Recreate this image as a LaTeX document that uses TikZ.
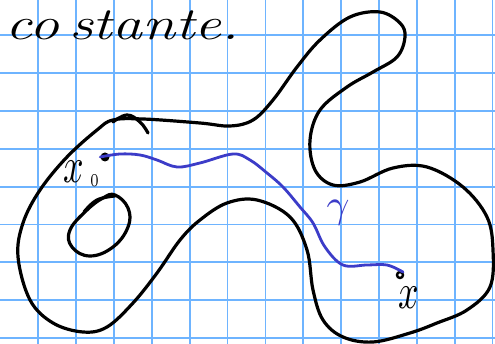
\documentclass[tikz,border=0pt]{standalone}
\usepackage{fix-cm}
\usetikzlibrary{calc}
\definecolor{gridblue}{RGB}{110,180,255}
\definecolor{pathblue}{RGB}{60,60,200}
\begin{document}
\begin{tikzpicture}[x=1pt,y=-1pt,
  gridline/.style={draw=gridblue,line width=1.8pt},
  curve/.style={draw=black,line width=3.2pt,line cap=round,line join=round},
  gammapath/.style={draw=pathblue,line width=2.8pt,line cap=round},
  basept/.style={circle,fill=black,inner sep=0pt,minimum size=9pt},
  endpt/.style={circle,draw=black,line width=2.4pt,inner sep=0pt,minimum size=6pt},
  lbl/.style={inner sep=0pt,transform shape}]
\useasboundingbox (0,0) rectangle (495,344);
\fill[white] (0,0) rectangle (495,344);
% grid
\foreach \i in {0,...,12} \draw[gridline] ({38.3+\i*37.85},0) -- ({38.3+\i*37.85},344);
\foreach \j in {0,...,8} \draw[gridline] (0,{35.3+\j*37.85}) -- (495,{35.3+\j*37.85});
% title
\node[inner sep=0pt,anchor=west,xscale=1.3] (title) at (5,25) {\fontsize{46}{46}\selectfont\itshape co\,stante.};
% outer region
\draw[curve] plot[smooth cycle,tension=0.6] coordinates {
 (113,120) (143,119) (200,123) (230,126) (253,120) (273,100) (297,67) (320,40)
 (350,17) (380,12) (400,23) (405,37) (397,57) (373,72) (347,87) (320,110)
 (310,140) (315,170) (333,185) (360,182) (393,168) (427,167) (463,187) (487,217)
 (493,250) (490,287) (467,310) (437,323) (410,333) (373,342) (343,337) (323,320)
 (313,290) (307,250) (290,217) (257,200) (227,203) (200,220) (180,240) (157,273)
 (133,303) (107,327) (83,332) (53,323) (30,300) (18,257) (23,223) (40,190)
 (67,157) (97,130)};
% hat stroke
\draw[curve] plot[smooth,tension=0.7] coordinates {(113,122) (127,115) (140,122) (148,133)};
% hole
\draw[curve] plot[smooth cycle,tension=0.7] coordinates {
 (115,195) (128,208) (128,227) (113,247) (90,256) (72,247) (70,230) (87,210) (103,198)};
\draw[curve] plot[smooth,tension=0.7] coordinates {(84,212) (97,200) (115,196)};
% points
\node[basept] (x0pt) at (105,157) {};
\node[endpt] (xpt) at (400,275) {};
% gamma path
\draw[gammapath] plot[smooth,tension=0.6] coordinates {
 (x0pt.west) (120,154) (140,155) (157,160) (177,167) (200,163) (233,154) (250,160)
 (267,173) (283,187) (300,207) (313,223) (325,247) (343,265) (367,265) (387,265) (xpt.north east)};
% labels
\node[lbl,anchor=west,xscale=3.6,yscale=5] (x0lbl) at (63,174) {$x$\hspace{1.6pt}\raisebox{-0.9pt}{\fontsize{3.6}{4}\selectfont 0}};
\node[lbl,xscale=3.6,yscale=5] (xlbl) at (409,298) {$x$};
\node[lbl,text=pathblue,scale=4] (gammalbl) at (338,213) {$\gamma$};
\end{tikzpicture}
\end{document}
